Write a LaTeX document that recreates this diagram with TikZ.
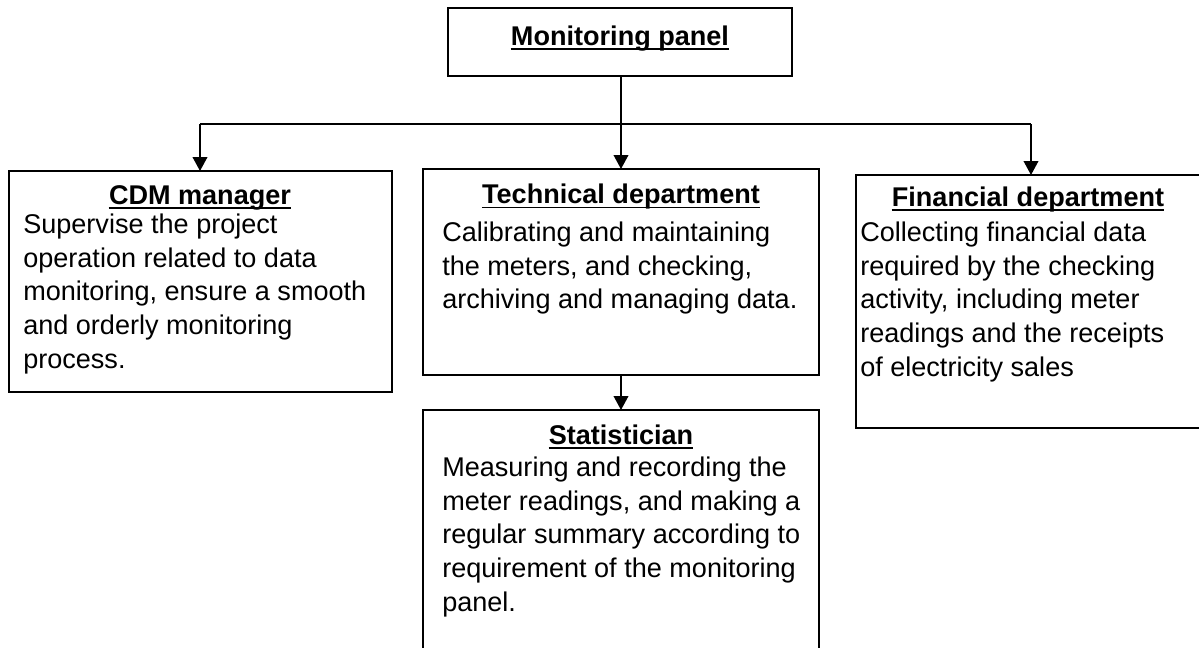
\documentclass[tikz,border=0pt]{standalone}
\usepackage{fontspec}
\setmainfont{Liberation Sans}
\usetikzlibrary{arrows.meta,fit}
\begin{document}
\begin{tikzpicture}[x=0.75pt,y=-0.75pt,
  every node/.style={font=\fontsize{20.3}{25.3}\selectfont},
  box/.style={draw, line width=1.3pt, inner sep=0pt, outer sep=0pt},
  ttlnode/.style={inner sep=0pt, anchor=base, font=\fontsize{20.3}{25.3}\selectfont\bfseries},
  uline/.style={line width=1.4pt},
  body/.style={inner sep=0pt, anchor=north west, align=left},
  link/.style={line width=1.3pt},
  conn/.style={line width=1.3pt, -{Triangle[width=11pt,length=10.5pt]}}]
\useasboundingbox (0,0) rectangle (1199,647);

\node[box, fit={(448,8)(792,76)}] (panel) {};
\node[box, fit={(9,171)(392,392)}] (cdm) {};
\node[box, fit={(423,169)(819,375)}] (tech) {};
\node[box, fit={(856,175)(1204,428)}] (fin) {};
\node[box, fit={(423,410)(819,660)}] (stat) {};

\node[ttlnode] (panelT) at (620,45) {Monitoring panel};
\node[ttlnode] (cdmT) at (200,204) {CDM manager};
\node[ttlnode] (techT) at (621,203.5) {Technical department};
\node[ttlnode] (finT) at (1028,206) {Financial department};
\node[ttlnode] (statT) at (621,444) {Statistician};
\foreach \t in {panelT,cdmT,techT,finT,statT}
  \draw[uline] ([yshift=-3pt]\t.base west) -- ([yshift=-3pt]\t.base east);

\node[body] (cdmB) at (23,209.4) {\strut Supervise the project\\
operation related to data\\
monitoring, ensure a smooth\\
and orderly monitoring\\
process.};
\node[body] (techB) at (442,217.4) {\strut Calibrating and maintaining\\
the meters, and checking,\\
archiving and managing data.};
\node[body] (finB) at (860,217.4) {\strut Collecting financial data\\
required by the checking\\
activity, including meter\\
readings and the receipts\\
of electricity sales};
\node[body] (statB) at (442,452.4) {\strut Measuring and recording the\\
meter readings, and making a\\
regular summary according to\\
requirement of the monitoring\\
panel.};

\coordinate (jl) at (200,124);
\coordinate (jr) at (1031,124);
\draw[link] (jl) -- (jr);
\draw[conn] (panel.south -| tech.north) -- (tech.north);
\draw[conn] (jl) -- (jl |- cdm.north);
\draw[conn] (jr) -- (jr |- fin.north);
\draw[conn] (tech.south) -- (stat.north);
\end{tikzpicture}
\end{document}
